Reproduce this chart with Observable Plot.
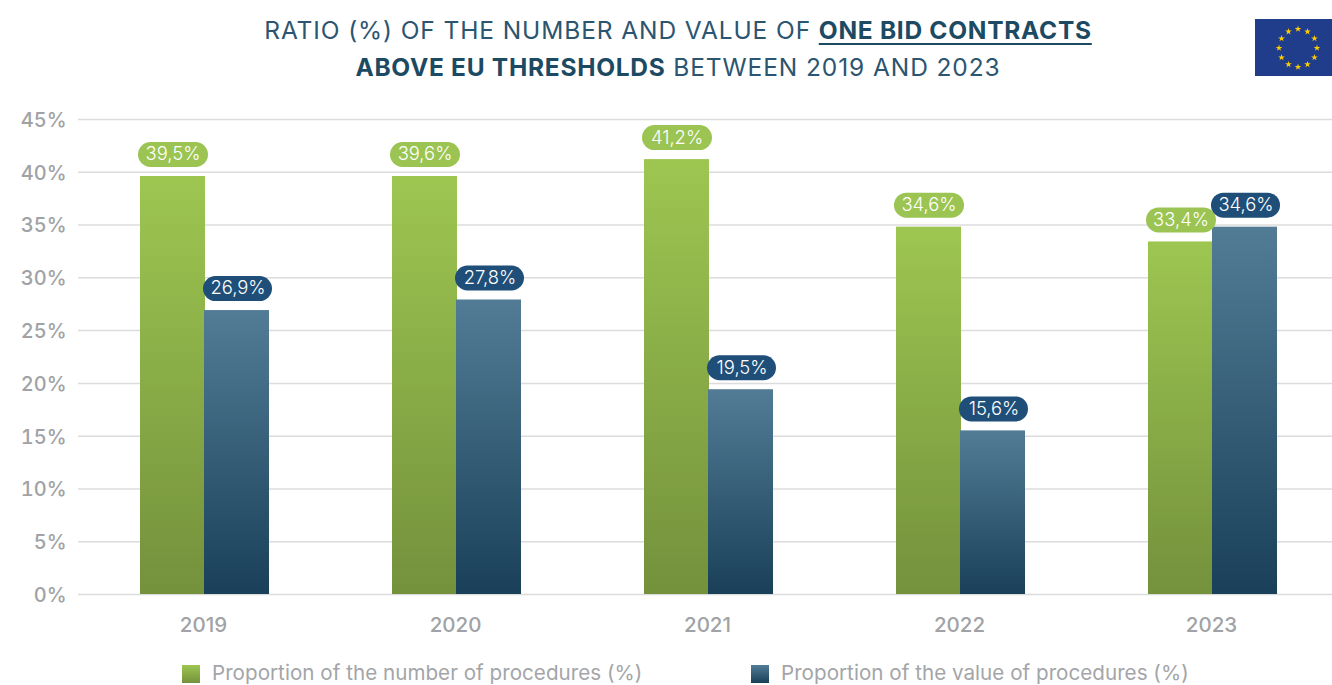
<!DOCTYPE html>
<html>
<head>
<meta charset="utf-8">
<script src="https://cdn.jsdelivr.net/npm/d3@7"></script>
<script src="https://cdn.jsdelivr.net/npm/@observablehq/plot@0.6"></script>
<style>
html,body{margin:0;padding:0;background:#fff;width:1332px;height:685px;overflow:hidden;font-family:Inter,sans-serif}
#title{position:absolute;left:0;top:0;width:1356px;height:90px;text-align:center;color:#2b5570;font-size:24.5px;letter-spacing:.9px;line-height:37px;padding-top:12px;box-sizing:border-box}
#title b{color:#1d4a63;font-weight:700;letter-spacing:.72px}
#title u{text-underline-offset:4px;text-decoration-thickness:2px}
#chart{position:absolute;left:0;top:90px}
#flag{position:absolute;left:1255px;top:19px;width:77px;height:57px}
.lg{position:absolute;top:660px;font-size:20.6px;letter-spacing:.03px;line-height:25px;color:#a3a5a8;white-space:nowrap}
.sw{position:absolute;top:665px;width:18px;height:18px}
</style>
</head>
<body>
<div id="title">RATIO (%) OF THE NUMBER AND VALUE OF <b><u>ONE BID CONTRACTS</u></b><br><b>ABOVE EU THRESHOLDS</b> BETWEEN 2019 AND 2023</div>
<div id="flag"></div>
<div id="chart"></div>
<div class="sw" style="left:182px;background:linear-gradient(#9dc651,#74913c)"></div>
<div class="lg" id="l1" style="left:212px"></div>
<div class="sw" style="left:751px;background:linear-gradient(#527c96,#1a4059)"></div>
<div class="lg" id="l2" style="left:781px"></div>
<script>
const years = ["2019", "2020", "2021", "2022", "2023"];
// Printed labels
const numberLabels = ["39,5%", "39,6%", "41,2%", "34,6%", "33,4%"];
const valueLabels = ["26,9%", "27,8%", "19,5%", "15,6%", "34,6%"];
// Bar heights
const numberShare = [39.6, 39.6, 41.2, 34.8, 33.4];
const valueShare = [26.9, 27.9, 19.4, 15.5, 34.8];
const yTicks = [0, 5, 10, 15, 20, 25, 30, 35, 40, 45];
const seriesNames = ["Proportion of the number of procedures (%)", "Proportion of the value of procedures (%)"];

document.getElementById("l1").textContent = seriesNames[0];
document.getElementById("l2").textContent = seriesNames[1];

const green = years.map((year, i) => ({year, v: numberShare[i], label: numberLabels[i]}));
const blue = years.map((year, i) => ({year, v: valueShare[i], label: valueLabels[i]}));

function gradients() {
  const ns = "http://www.w3.org/2000/svg";
  const defs = document.createElementNS(ns, "defs");
  [["gGreen", "#9dc651", "#74913c"], ["gBlue", "#527c96", "#1a4059"]].forEach(([id, a, b]) => {
    const g = document.createElementNS(ns, "linearGradient");
    g.setAttribute("id", id);
    g.setAttribute("x1", 0); g.setAttribute("y1", 0); g.setAttribute("x2", 0); g.setAttribute("y2", 1);
    [[0, a], [1, b]].forEach(([o, c]) => {
      const s = document.createElementNS(ns, "stop");
      s.setAttribute("offset", o); s.setAttribute("stop-color", c);
      g.appendChild(s);
    });
    defs.appendChild(g);
  });
  return defs;
}

const half = 64, lift = -22;

const chart = Plot.plot({
  width: 1332,
  height: 560,
  marginTop: 29,
  marginBottom: 56,
  marginLeft: 78,
  marginRight: 0,
  style: {background: "transparent", fontFamily: "Inter, sans-serif"},
  x: {domain: years, range: [78, 1338], paddingInner: 0.49, paddingOuter: 0.245, label: null},
  y: {domain: [0, 45], label: null},
  marks: [
    gradients,
    Plot.ruleY(yTicks, {stroke: "#dcdcdc", strokeWidth: 1.5}),
    Plot.barY(green, {x: "year", y: "v", fill: "url(#gGreen)", insetRight: half}),
    Plot.barY(blue, {x: "year", y: "v", fill: "url(#gBlue)", insetLeft: half}),
    Plot.tickY(green, {x: "year", y: "v", dy: lift, stroke: "#9bc452", strokeWidth: 25, strokeLinecap: "round", insetLeft: 10.5, insetRight: 73.5}),
    Plot.tickY(blue, {x: "year", y: "v", dy: lift, stroke: "#1f4e78", strokeWidth: 25, strokeLinecap: "round", insetLeft: 75.5, insetRight: 9.5}),
    Plot.text(green, {x: "year", y: "v", text: "label", dx: -32, dy: lift, fill: "white", fontSize: 18.4, fontWeight: 300}),
    Plot.text(blue, {x: "year", y: "v", text: "label", dx: 33, dy: lift, fill: "white", fontSize: 18.4, fontWeight: 300}),
    Plot.axisY({ticks: yTicks, tickSize: 0, tickPadding: 12, dy: 1, tickFormat: d => d + "%", fontSize: 20, fontWeight: 500, color: "#a0a2a5", label: null}),
    Plot.axisX({tickSize: 0, tickPadding: 22.5, dx: -1.5, fontSize: 20.5, fontWeight: 500, color: "#a0a2a5", label: null})
  ]
});
document.getElementById("chart").appendChild(chart);

const stars = d3.range(12);
const flag = Plot.plot({
  width: 77, height: 57, margin: 0,
  style: {background: "#1f3d8a"},
  x: {domain: [-2.237, 1.816], axis: null},
  y: {domain: [-1.5, 1.5], axis: null},
  marks: [
    Plot.dot(stars, {x: i => Math.sin(i * Math.PI / 6), y: i => Math.cos(i * Math.PI / 6), symbol: "star", fill: "#ffcc00", r: 2.1})
  ]
});
document.getElementById("flag").appendChild(flag);
</script>
</body>
</html>
